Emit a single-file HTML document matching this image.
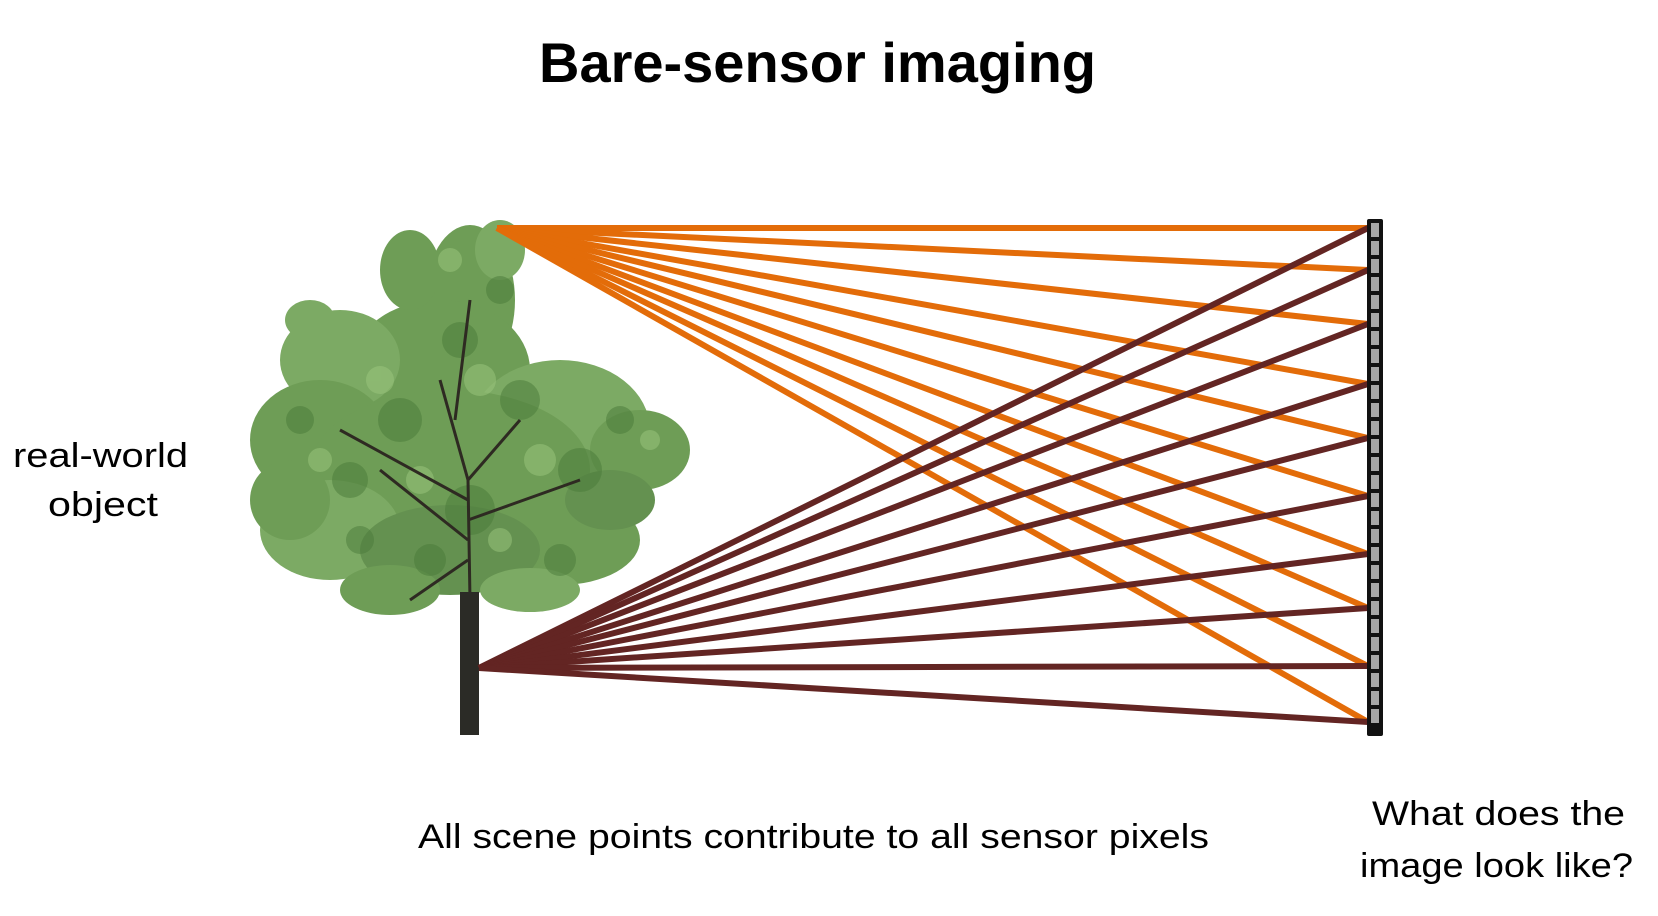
<!DOCTYPE html>
<html><head><meta charset="utf-8"><style>
html,body{margin:0;padding:0;background:#fff;}
svg{display:block;}
text{font-family:"Liberation Sans",sans-serif;fill:#000;}
</style></head><body>
<svg width="1658" height="916" viewBox="0 0 1658 916" xmlns="http://www.w3.org/2000/svg">
<text x="539" y="82" font-size="56" font-weight="bold" textLength="557" lengthAdjust="spacingAndGlyphs">Bare-sensor imaging</text>
<text x="13" y="467" font-size="34" textLength="175" lengthAdjust="spacingAndGlyphs">real-world</text>
<text x="48" y="516" font-size="34" textLength="110" lengthAdjust="spacingAndGlyphs">object</text>
<text x="418" y="848" font-size="34" textLength="791" lengthAdjust="spacingAndGlyphs">All scene points contribute to all sensor pixels</text>
<text x="1372" y="825" font-size="34" textLength="253" lengthAdjust="spacingAndGlyphs">What does the</text>
<text x="1360" y="877" font-size="34" textLength="273" lengthAdjust="spacingAndGlyphs">image look like?</text>

<!-- tree -->
<g>
<g fill="#67984e" opacity="0.95">
<ellipse cx="470" cy="300" rx="45" ry="75"/>
<ellipse cx="440" cy="370" rx="90" ry="70"/>
<ellipse cx="340" cy="360" rx="60" ry="50" fill="#76a65c"/>
<ellipse cx="310" cy="320" rx="25" ry="20" fill="#76a65c"/>
<ellipse cx="320" cy="440" rx="70" ry="60"/>
<ellipse cx="560" cy="430" rx="90" ry="70" fill="#76a65c"/>
<ellipse cx="640" cy="450" rx="50" ry="40"/>
<ellipse cx="450" cy="470" rx="140" ry="80"/>
<ellipse cx="330" cy="530" rx="70" ry="50" fill="#76a65c"/>
<ellipse cx="560" cy="540" rx="80" ry="45"/>
<ellipse cx="450" cy="550" rx="90" ry="45" fill="#5c8c47"/>
<ellipse cx="290" cy="500" rx="40" ry="40"/>
<ellipse cx="500" cy="250" rx="25" ry="30" fill="#76a65c"/>
<ellipse cx="410" cy="270" rx="30" ry="40"/>
<ellipse cx="610" cy="500" rx="45" ry="30" fill="#5c8c47"/>
<ellipse cx="390" cy="590" rx="50" ry="25"/>
<ellipse cx="530" cy="590" rx="50" ry="22" fill="#76a65c"/>
</g>
<g fill="#4a7a39" opacity="0.5">
<circle cx="460" cy="340" r="18"/><circle cx="400" cy="420" r="22"/><circle cx="520" cy="400" r="20"/>
<circle cx="350" cy="480" r="18"/><circle cx="580" cy="470" r="22"/><circle cx="470" cy="510" r="25"/>
<circle cx="300" cy="420" r="14"/><circle cx="620" cy="420" r="14"/><circle cx="430" cy="560" r="16"/>
<circle cx="500" cy="290" r="14"/><circle cx="360" cy="540" r="14"/><circle cx="560" cy="560" r="16"/>
</g>
<g fill="#9cc77e" opacity="0.5">
<circle cx="480" cy="380" r="16"/><circle cx="380" cy="380" r="14"/><circle cx="540" cy="460" r="16"/>
<circle cx="420" cy="480" r="14"/><circle cx="320" cy="460" r="12"/><circle cx="650" cy="440" r="10"/>
<circle cx="450" cy="260" r="12"/><circle cx="500" cy="540" r="12"/>
</g>
<g stroke="#2e2a22" fill="none" stroke-width="3">
<path d="M470 600 L468 480 L440 380 M468 480 L520 420 M468 540 L380 470 M468 520 L580 480 M455 420 L470 300 M468 560 L410 600 M468 500 L340 430"/>
</g>
<rect x="460" y="592" width="19" height="143" fill="#2b2b26"/>
</g>

<!-- rays -->
<g stroke="#E36C09" stroke-width="6" stroke-linecap="butt">
<line x1="497" y1="228" x2="1368" y2="228"/>
<line x1="497" y1="228" x2="1368" y2="270"/>
<line x1="497" y1="228" x2="1368" y2="324"/>
<line x1="497" y1="228" x2="1368" y2="384"/>
<line x1="497" y1="228" x2="1368" y2="438"/>
<line x1="497" y1="228" x2="1368" y2="496"/>
<line x1="497" y1="228" x2="1368" y2="554"/>
<line x1="497" y1="228" x2="1368" y2="608"/>
<line x1="497" y1="228" x2="1368" y2="666"/>
<line x1="497" y1="228" x2="1368" y2="722"/>
</g>
<g stroke="#632523" stroke-width="6" stroke-linecap="butt">
<line x1="479" y1="668" x2="1368" y2="228"/>
<line x1="479" y1="668" x2="1368" y2="270"/>
<line x1="479" y1="668" x2="1368" y2="324"/>
<line x1="479" y1="668" x2="1368" y2="384"/>
<line x1="479" y1="668" x2="1368" y2="438"/>
<line x1="479" y1="668" x2="1368" y2="496"/>
<line x1="479" y1="668" x2="1368" y2="554"/>
<line x1="479" y1="668" x2="1368" y2="608"/>
<line x1="479" y1="668" x2="1368" y2="666"/>
<line x1="479" y1="668" x2="1368" y2="722"/>
</g>

<!-- sensor -->
<rect x="1367" y="219" width="16" height="517" rx="2" fill="#111"/>
<g fill="#a6a6a6">
<rect x="1371" y="223" width="8" height="14"/><rect x="1371" y="241" width="8" height="14"/>
<rect x="1371" y="259" width="8" height="14"/><rect x="1371" y="277" width="8" height="14"/>
<rect x="1371" y="295" width="8" height="14"/><rect x="1371" y="313" width="8" height="14"/>
<rect x="1371" y="331" width="8" height="14"/><rect x="1371" y="349" width="8" height="14"/>
<rect x="1371" y="367" width="8" height="14"/><rect x="1371" y="385" width="8" height="14"/>
<rect x="1371" y="403" width="8" height="14"/><rect x="1371" y="421" width="8" height="14"/>
<rect x="1371" y="439" width="8" height="14"/><rect x="1371" y="457" width="8" height="14"/>
<rect x="1371" y="475" width="8" height="14"/><rect x="1371" y="493" width="8" height="14"/>
<rect x="1371" y="511" width="8" height="14"/><rect x="1371" y="529" width="8" height="14"/>
<rect x="1371" y="547" width="8" height="14"/><rect x="1371" y="565" width="8" height="14"/>
<rect x="1371" y="583" width="8" height="14"/><rect x="1371" y="601" width="8" height="14"/>
<rect x="1371" y="619" width="8" height="14"/><rect x="1371" y="637" width="8" height="14"/>
<rect x="1371" y="655" width="8" height="14"/><rect x="1371" y="673" width="8" height="14"/>
<rect x="1371" y="691" width="8" height="14"/><rect x="1371" y="709" width="8" height="14"/>
</g>
</svg>
</body></html>
